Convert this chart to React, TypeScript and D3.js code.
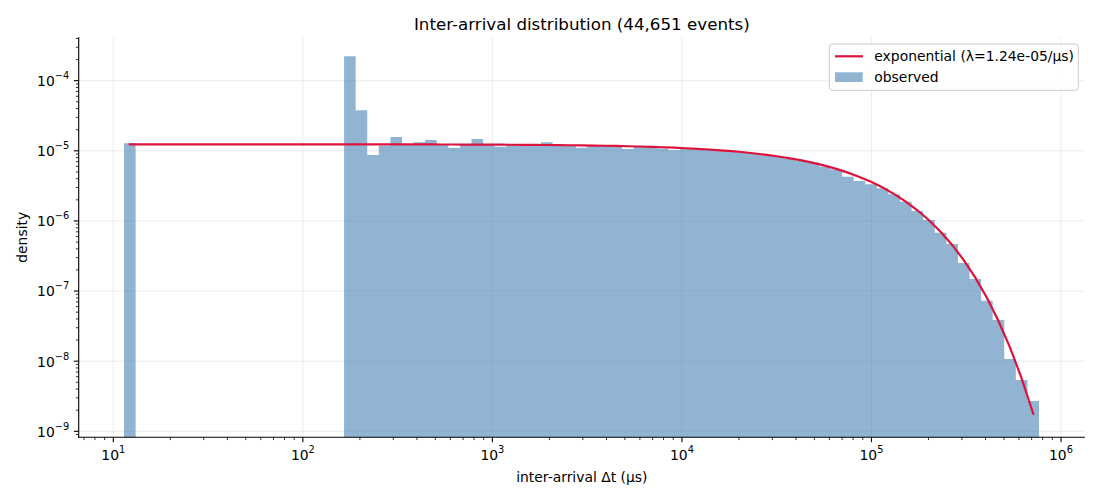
import * as d3 from 'd3';

// histogram: 79 log-spaced bins between the smallest and largest gap
const DT_MIN = 11.39;
const DT_MAX = 765600;
const N_BINS = 79;

// observed density per bin (0 = empty bin)
const DENSITY = [
  1.28e-5, 0, 0, 0, 0, 0, 0, 0, 0, 0,
  0, 0, 0, 0, 0, 0, 0, 0, 0, 2.23e-4,
  3.8e-5, 8.7e-6, 1.18e-5, 1.57e-5, 1.22e-5, 1.33e-5, 1.43e-5, 1.22e-5, 1.1e-5, 1.24e-5,
  1.48e-5, 1.23e-5, 1.14e-5, 1.21e-5, 1.2e-5, 1.21e-5, 1.33e-5, 1.19e-5, 1.2e-5, 1.11e-5,
  1.18e-5, 1.17e-5, 1.15e-5, 1.06e-5, 1.13e-5, 1.12e-5, 1.08e-5, 1.03e-5, 1.07e-5, 1.05e-5,
  1.03e-5, 1.0e-5, 9.7e-6, 9.4e-6, 9.0e-6, 8.6e-6, 8.2e-6, 7.7e-6, 7.2e-6, 6.8e-6,
  6.0e-6, 5.42e-6, 4.28e-6, 3.72e-6, 3.33e-6, 2.92e-6, 2.4e-6, 1.88e-6, 1.39e-6, 1.03e-6,
  6.79e-7, 4.69e-7, 2.51e-7, 1.49e-7, 7.29e-8, 3.86e-8, 1.07e-8, 5.4e-9, 2.7e-9,
];

const LAMBDA = 1.24e-5; // fitted rate, per µs

const X_TICKS = [1, 2, 3, 4, 5, 6]; // exponents
const Y_TICKS = [-9, -8, -7, -6, -5, -4];

const TITLE = 'Inter-arrival distribution (44,651 events)';
const X_LABEL = 'inter-arrival Δt (μs)';
const Y_LABEL = 'density';
const LEGEND = [`exponential (λ=1.24e-05/μs)`, 'observed'];

const W = 1100;
const H = 500;
const M = { left: 78.7, right: 1085, top: 37.3, bottom: 437.3 };
const FONT = 'DejaVu Sans, sans-serif';
const BAR = '#4682b4';
const LINE = '#dc143c';

const minus = (s: string) => s.replace('-', '\u2212');

function minorTicks(lo: number, hi: number) {
  const out: number[] = [];
  for (let e = Math.floor(Math.log10(lo)); e <= Math.ceil(Math.log10(hi)); e++) {
    for (let m = 2; m <= 9; m++) {
      const v = m * Math.pow(10, e);
      if (v >= lo && v <= hi) out.push(v);
    }
  }
  return out;
}

export default function App() {
  const x = d3.scaleLog().domain([Math.pow(10, 0.8174), Math.pow(10, 6.1266)]).range([M.left, M.right]);
  const y = d3.scaleLog().domain([Math.pow(10, -9.0856), Math.pow(10, -3.381)]).range([M.bottom, M.top]);

  const lo = Math.log10(DT_MIN);
  const step = (Math.log10(DT_MAX) - lo) / N_BINS;
  const bins = DENSITY.map((d, i) => ({
    x0: Math.pow(10, lo + i * step),
    x1: Math.pow(10, lo + (i + 1) * step),
    mid: Math.pow(10, lo + (i + 0.5) * step),
    d,
  }));

  // adjacent bars merged into one outline each, so no seams show between them
  const bp = d3.path();
  let open = false;
  bins.forEach((b, i) => {
    if (b.d > 0) {
      if (!open) {
        bp.moveTo(x(b.x0), M.bottom);
        open = true;
      }
      bp.lineTo(x(b.x0), y(b.d));
      bp.lineTo(x(b.x1), y(b.d));
    }
    const next = bins[i + 1];
    if (open && (!next || next.d <= 0)) {
      bp.lineTo(x(b.x1), M.bottom);
      bp.closePath();
      open = false;
    }
  });

  const fit = bins.map((b) => [b.mid, LAMBDA * Math.exp(-LAMBDA * b.mid)] as [number, number]);
  const linePath = d3.line<[number, number]>().x((p) => x(p[0])).y((p) => y(p[1]))(fit) || '';

  const xMinor = minorTicks(x.domain()[0], x.domain()[1]);
  const yMinor = minorTicks(y.domain()[0], y.domain()[1]);
  const cx = (M.left + M.right) / 2;

  return (
    <svg width={W} height={H} style={{ position: 'fixed', left: 0, top: 0, background: '#fff' }} fontFamily={FONT}>
      <rect width={W} height={H} fill="#fff" />

      {/* grid */}
      <g stroke="#b0b0b0" strokeOpacity={0.3} strokeWidth={0.8}>
        {X_TICKS.map((e) => (
          <line key={'gx' + e} x1={x(Math.pow(10, e))} x2={x(Math.pow(10, e))} y1={M.top} y2={M.bottom} />
        ))}
        {Y_TICKS.map((e) => (
          <line key={'gy' + e} x1={M.left} x2={M.right} y1={y(Math.pow(10, e))} y2={y(Math.pow(10, e))} />
        ))}
      </g>

      {/* bars */}
      <path d={bp.toString()} fill={BAR} fillOpacity={0.6} />

      {/* fit */}
      <path d={linePath} fill="none" stroke={LINE} strokeWidth={2.2} strokeLinecap="square" />

      {/* spines */}
      <g stroke="#000" strokeWidth={1.1}>
        <line x1={M.left} x2={M.left} y1={M.top} y2={M.bottom + 0.55} />
        <line x1={M.left - 0.55} x2={M.right} y1={M.bottom} y2={M.bottom} />
      </g>

      {/* ticks */}
      <g stroke="#000">
        {X_TICKS.map((e) => (
          <line key={'xt' + e} x1={x(Math.pow(10, e))} x2={x(Math.pow(10, e))} y1={M.bottom} y2={M.bottom + 4.9} strokeWidth={1.1} />
        ))}
        {xMinor.map((v, i) => (
          <line key={'xm' + i} x1={x(v)} x2={x(v)} y1={M.bottom} y2={M.bottom + 2.8} strokeWidth={0.8} />
        ))}
        {Y_TICKS.map((e) => (
          <line key={'yt' + e} x1={M.left - 4.9} x2={M.left} y1={y(Math.pow(10, e))} y2={y(Math.pow(10, e))} strokeWidth={1.1} />
        ))}
        {yMinor.map((v, i) => (
          <line key={'ym' + i} x1={M.left - 2.8} x2={M.left} y1={y(v)} y2={y(v)} strokeWidth={0.8} />
        ))}
      </g>

      {/* tick labels */}
      <g fontSize={13.9} fill="#000">
        {X_TICKS.map((e) => (
          <text key={'xl' + e} x={x(Math.pow(10, e))} y={460} textAnchor="middle">
            10<tspan fontSize={9.8} dy={-7}>{String(e)}</tspan>
          </text>
        ))}
        {Y_TICKS.map((e) => (
          <text key={'yl' + e} x={M.left - 9.5} y={y(Math.pow(10, e)) + 5.4} textAnchor="end">
            10<tspan fontSize={9.8} dy={-7}>{minus(String(e))}</tspan>
          </text>
        ))}
      </g>

      {/* labels */}
      <text x={cx} y={29.5} textAnchor="middle" fontSize={16.7}>{TITLE}</text>
      <text x={cx} y={482} textAnchor="middle" fontSize={13.9}>{X_LABEL}</text>
      <text transform={`translate(27,${(M.top + M.bottom) / 2}) rotate(-90)`} textAnchor="middle" fontSize={13.9}>
        {Y_LABEL}
      </text>

      {/* legend */}
      <g>
        <rect x={829.3} y={44} width={249} height={46.3} rx={3} fill="#fff" fillOpacity={0.8} stroke="#cccccc" strokeWidth={1} />
        <line x1={835} x2={863} y1={56.3} y2={56.3} stroke={LINE} strokeWidth={2.2} />
        <rect x={835} y={72.3} width={27.7} height={9.7} fill={BAR} fillOpacity={0.6} />
        <text x={874.3} y={61.3} fontSize={13.9}>{LEGEND[0]}</text>
        <text x={874.3} y={81.8} fontSize={13.9}>{LEGEND[1]}</text>
      </g>
    </svg>
  );
}
